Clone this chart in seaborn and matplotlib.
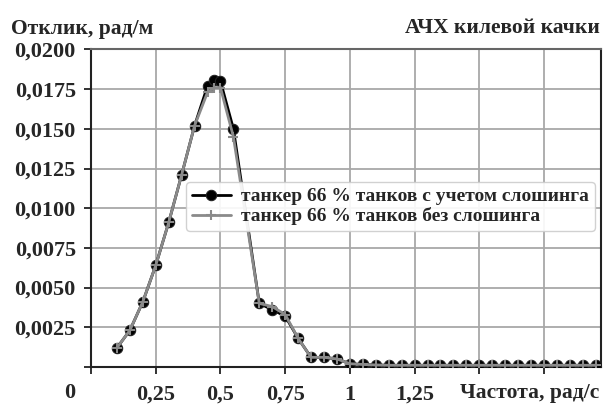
import matplotlib
matplotlib.use("Agg")
import matplotlib.pyplot as plt
import seaborn as sns
import pandas as pd
from matplotlib.ticker import FuncFormatter

# frequency, rad/s
freq = [0.1, 0.15, 0.2, 0.25, 0.3, 0.35, 0.4, 0.45, 0.475, 0.5, 0.55,
        0.65, 0.7, 0.75, 0.8, 0.85, 0.9, 0.95, 1.0, 1.05, 1.1, 1.15, 1.2,
        1.25, 1.3, 1.35, 1.4, 1.45, 1.5, 1.55, 1.6, 1.65, 1.7, 1.75, 1.8,
        1.85, 1.9, 1.95]
# response with sloshing
resp_slosh = [0.0012, 0.0023, 0.0041, 0.0064, 0.0091, 0.0121, 0.0152,
              0.0177, 0.0181, 0.0180, 0.0150, 0.0040, 0.0036, 0.0032,
              0.0018, 0.0006, 0.0006, 0.0005, 0.0002, 0.00015, 0.00012,
              0.0001, 0.0001, 0.0001, 0.0001, 0.0001, 0.0001, 0.0001,
              0.0001, 0.0001, 0.0001, 0.0001, 0.0001, 0.0001, 0.0001,
              0.0001, 0.0001, 0.0001]
# response without sloshing
resp_no_slosh = [0.0012, 0.0023, 0.0041, 0.0064, 0.0091, 0.0121, 0.0152,
                 0.0173, 0.0176, 0.0176, 0.0145, 0.0040, 0.0038, 0.0033,
                 0.0018, 0.0006, 0.0006, 0.0005, 0.0002, 0.00015, 0.00012,
                 0.0001, 0.0001, 0.0001, 0.0001, 0.0001, 0.0001, 0.0001,
                 0.0001, 0.0001, 0.0001, 0.0001, 0.0001, 0.0001, 0.0001,
                 0.0001, 0.0001, 0.0001]

label_slosh = "танкер 66 % танков с учетом слошинга"
label_no_slosh = "танкер 66 % танков без слошинга"

x_ticks = [0, 0.25, 0.5, 0.75, 1, 1.25, 1.5, 1.75]
x_tick_labels = ["", "0,25", "0,5", "0,75", "1", "1,25", "", ""]
y_ticks = [0, 0.0025, 0.005, 0.0075, 0.01, 0.0125, 0.015, 0.0175, 0.02]

df = pd.DataFrame({"freq": freq, "slosh": resp_slosh, "no_slosh": resp_no_slosh})

sns.set_style("white")
plt.rcParams["font.family"] = ["Liberation Serif", "DejaVu Serif"]
plt.rcParams["font.weight"] = "bold"

fig = plt.figure(figsize=(6.07, 4.09), dpi=100)
ax = fig.add_axes([0.150, 0.103, 0.840, 0.776])

sns.lineplot(data=df, x="freq", y="slosh", ax=ax, color="black", linewidth=2,
             marker="o", markersize=7.5, markeredgecolor="#222222",
             label=label_slosh, zorder=3)
sns.lineplot(data=df, x="freq", y="no_slosh", ax=ax, color="#8a8a8a", linewidth=2,
             marker="+", markersize=7, markeredgewidth=1.5, markeredgecolor="#8a8a8a",
             label=label_no_slosh, zorder=4)

ax.set_xlim(0, 1.97)
ax.set_ylim(0, 0.02)
ax.set_xticks(x_ticks)
ax.set_xticklabels(x_tick_labels)
ax.set_yticks(y_ticks)
ax.yaxis.set_major_formatter(FuncFormatter(lambda v, p: "" if v == 0 else f"{v:.4f}".replace(".", ",")))
ax.tick_params(axis="both", labelsize=16, length=5, width=1.3, color="#222222",
               direction="out", bottom=True, left=True, pad=8)
ax.tick_params(axis="y", pad=6)
ax.grid(True, color="#a8a8a8", linewidth=1.3)
for s in ax.spines.values():
    s.set_color("#222222")
    s.set_linewidth(1.5)
ax.spines["top"].set_color("#666666")
ax.set_xlabel("")
ax.set_ylabel("")

fig.text(0.115, 0.040, "0", fontsize=16, ha="center", va="center")
fig.text(0.988, 0.040, "Частота, рад/с", fontsize=15.5, ha="right", va="center")
fig.text(0.018, 0.930, "Отклик, рад/м", fontsize=15.5, ha="left", va="center")
fig.text(0.988, 0.932, "АЧХ килевой качки", fontsize=15.5, ha="right", va="center")

leg = ax.legend(loc="center right", bbox_to_anchor=(0.996, 0.505), fontsize=14,
                frameon=True, handlelength=2.0, handletextpad=0.55,
                borderpad=0.3, labelspacing=0.1, borderaxespad=0.2)
leg.get_frame().set_edgecolor("#cccccc")
leg.get_frame().set_alpha(0.9)

fig.savefig("out.png", dpi=100)
